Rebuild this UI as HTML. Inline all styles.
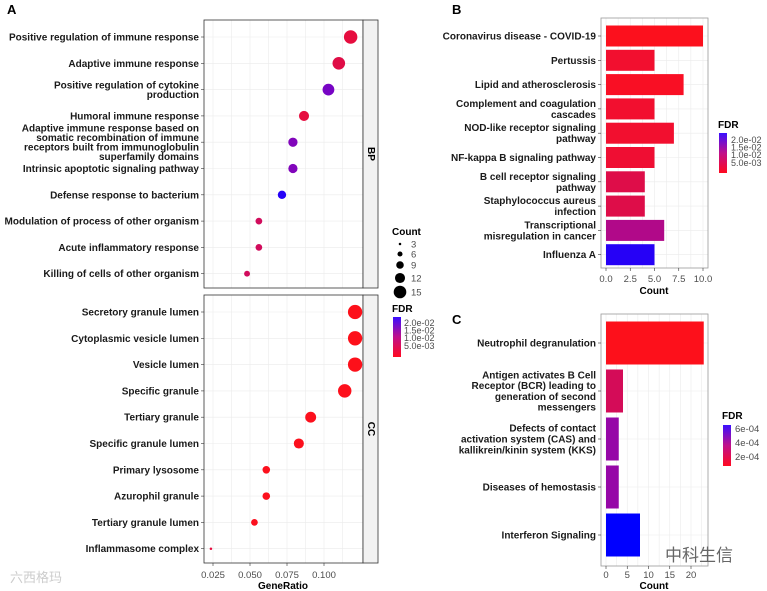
<!DOCTYPE html>
<html><head><meta charset="utf-8">
<style>
html,body{margin:0;padding:0;background:#fff;}
svg{display:block;font-family:"Liberation Sans",Arial,sans-serif;}
.lab{font-size:10px;font-weight:bold;fill:#1a1a1a;}
.tick{font-size:9.5px;fill:#4d4d4d;}
.ttl{font-size:10px;font-weight:bold;fill:#000;}
</style></head>
<body>
<svg id="chart" width="767" height="591" viewBox="0 0 767 591" xmlns="http://www.w3.org/2000/svg"></svg>
<script>
// ---- Panel A data ----
const bpTerms=["Positive regulation of immune response","Adaptive immune response","Positive regulation of cytokine|production","Humoral immune response","Adaptive immune response based on|somatic recombination of immune|receptors built from immunoglobulin|superfamily domains","Intrinsic apoptotic signaling pathway","Defense response to bacterium","Modulation of process of other organism","Acute inflammatory response","Killing of cells of other organism"];
const bpRatio=[0.118,0.110,0.103,0.0865,0.079,0.079,0.0716,0.056,0.056,0.048];
const bpCount=[16,15,14,12,11,11,10,8,8,7];
const bpFdr=[0.004,0.005,0.018,0.004,0.017,0.017,0.024,0.007,0.007,0.007];
const ccTerms=["Secretory granule lumen","Cytoplasmic vesicle lumen","Vesicle lumen","Specific granule","Tertiary granule","Specific granule lumen","Primary lysosome","Azurophil granule","Tertiary granule lumen","Inflammasome complex"];
const ccRatio=[0.121,0.121,0.121,0.114,0.091,0.083,0.061,0.061,0.053,0.0236];
const ccCount=[17,17,17,16,13,12,9,9,8,3];
const ccFdr=[0.0003,0.0003,0.0003,0.0004,0.0005,0.0005,0.0005,0.0005,0.0006,0.004];
const aTicks=[0.025,0.050,0.075,0.100];
const aTickLabels=["0.025","0.050","0.075","0.100"];
const sizeLegend=[3,6,9,12,15];
const aFdrLabels=["2.0e-02","1.5e-02","1.0e-02","5.0e-03"];
// ---- Panel B data ----
const bTerms=["Coronavirus disease - COVID-19","Pertussis","Lipid and atherosclerosis","Complement and coagulation|cascades","NOD-like receptor signaling|pathway","NF-kappa B signaling pathway","B cell receptor signaling|pathway","Staphylococcus aureus|infection","Transcriptional|misregulation in cancer","Influenza A"];
const bCount=[10,5,8,5,7,5,4,4,6,5];
const bFdr=[0.0005,0.002,0.001,0.002,0.002,0.0025,0.005,0.005,0.011,0.023];
const bTicks=[0,2.5,5,7.5,10];
const bTickLabels=["0.0","2.5","5.0","7.5","10.0"];
const bFdrLabels=["2.0e-02","1.5e-02","1.0e-02","5.0e-03"];
// ---- Panel C data ----
const cTerms=["Neutrophil degranulation","Antigen activates B Cell|Receptor (BCR) leading to|generation of second|messengers","Defects of contact|activation system (CAS) and|kallikrein/kinin system (KKS)","Diseases of hemostasis","Interferon Signaling"];
const cCount=[23,4,3,3,8];
const cFdr=[0.00001,0.00018,0.0004,0.0004,0.00068];
const cTicks=[0,5,10,15,20];
const cFdrLabels=["6e-04","4e-04","2e-04"];

const NS="http://www.w3.org/2000/svg";
const svg=document.getElementById('chart');
function mk(tag,attrs,parent,text){const e=document.createElementNS(NS,tag);for(const k in attrs)e.setAttribute(k,attrs[k]);if(text!==undefined)e.textContent=text;(parent||svg).appendChild(e);return e;}
function col(t){t=Math.max(0,Math.min(1,t));const r=Math.round(255*Math.pow(1-t,0.6)),g=Math.round(16*(1-t)),b=Math.round(255*Math.pow(t,0.8)+ (t<0.2?40*(1-t*5)*0.5:0));return `rgb(${r},${g},${b})`;}
function grad(id){const d=mk('defs',{});const lg=mk('linearGradient',{id:id,x1:0,y1:0,x2:0,y2:1},d);mk('stop',{offset:'0','stop-color':'#3a10ff'},lg);mk('stop',{offset:'0.5','stop-color':'#c0108a'},lg);mk('stop',{offset:'1','stop-color':'#ff0a20'},lg);}
function multiLabel(txt,xr,yc,lh,name){const lines=txt.split('|');const t=mk('text',{class:'lab','text-anchor':'end'});const y0=yc-(lines.length-1)*lh/2+3.5;lines.forEach((l,i)=>mk('tspan',{x:xr,y:y0+i*lh},t,l));}
function grid(x0,x1,y0,y1,xs,ys){xs.forEach(x=>mk('line',{x1:x,x2:x,y1:y0,y2:y1,stroke:'#ebebeb','stroke-width':0.6}));ys.forEach(y=>mk('line',{x1:x0,x2:x1,y1:y,y2:y,stroke:'#ebebeb','stroke-width':0.6}));}

mk('text',{x:7,y:14,style:'font-size:13px;font-weight:bold'},svg,'A');
mk('text',{x:452,y:14,style:'font-size:13px;font-weight:bold'},svg,'B');
mk('text',{x:452,y:324,style:'font-size:13px;font-weight:bold'},svg,'C');

// ---- Panel A ----
const ax=v=>213+(v-0.025)/0.025*37;
const aL=204,aR=363;
function facet(terms,ratio,count,fdr,top,bot,strip,name){
  const rowY=i=>top+17+i*26.3;
  const xs=[];aTicks.forEach(v=>{xs.push(ax(v));xs.push(ax(v-0.0125));});xs.push(ax(0.1125));
  grid(aL,aR,top,bot,xs.filter(x=>x>aL&&x<aR),terms.map((_,i)=>rowY(i)));
  mk('rect',{x:aL,y:top,width:aR-aL,height:bot-top,fill:'none',stroke:'#333','stroke-width':0.8});
  const s=mk('rect',{x:aR,y:top,width:15,height:bot-top,fill:'#f2f2f2',stroke:'#333','stroke-width':0.8});
  
  const st=mk('text',{x:aR+7.5,y:(top+bot)/2,class:'ttl','text-anchor':'middle',transform:`rotate(90 ${aR+7.5} ${(top+bot)/2})`,'dominant-baseline':'middle'},svg,strip);
  
  terms.forEach((t,i)=>{
    multiLabel(t,199,rowY(i),9.5,name+'-term-label');
    mk('line',{x1:201,x2:204,y1:rowY(i),y2:rowY(i),stroke:'#333','stroke-width':0.6});
    const c=mk('circle',{cx:ax(ratio[i]),cy:rowY(i),r:0.42*count[i],fill:col(fdr[i]/0.025)});
    
  });
}
facet(bpTerms,bpRatio,bpCount,bpFdr,20,288,'BP','bp');
facet(ccTerms,ccRatio,ccCount,ccFdr,295,563,'CC','cc');
aTicks.forEach((v,i)=>{mk('line',{x1:ax(v),x2:ax(v),y1:563,y2:566,stroke:'#333','stroke-width':0.6});
  const t=mk('text',{x:ax(v),y:578,class:'tick','text-anchor':'middle'},svg,aTickLabels[i]);});
mk('text',{x:283,y:589,class:'ttl','text-anchor':'middle'},svg,'GeneRatio');
mk('text',{x:392,y:235,class:'ttl'},svg,'Count');
const legY=[244,254,265,278,292];
sizeLegend.forEach((c,i)=>{const d=mk('circle',{cx:400,cy:legY[i],r:0.42*c,fill:'#000'});
  mk('text',{x:411,y:legY[i]+3.5,class:'tick'},svg,String(c));});
mk('text',{x:392,y:312,class:'ttl'},svg,'FDR');
grad('g1');
mk('rect',{x:393,y:317,width:8,height:40,fill:'url(#g1)'});
aFdrLabels.forEach((l,i)=>mk('text',{x:404,y:326+i*7.6,class:'tick',style:'font-size:9px'},svg,l));

// ---- Panel B ----
const bx=v=>606+v*9.7;
const bTop=18,bBot=268,bRow=i=>36+i*24.3;
grid(601,708,bTop,bBot,[0,1.25,2.5,3.75,5,6.25,7.5,8.75,10].map(bx),bTerms.map((_,i)=>bRow(i)));
mk('rect',{x:601,y:bTop,width:107,height:bBot-bTop,fill:'none',stroke:'#999','stroke-width':0.8});
bTerms.forEach((t,i)=>{
  multiLabel(t,596,bRow(i),11,'b-term-label');
  mk('line',{x1:598,x2:601,y1:bRow(i),y2:bRow(i),stroke:'#333','stroke-width':0.6});
  const r=mk('rect',{x:bx(0),y:bRow(i)-10.5,width:bx(bCount[i])-bx(0),height:21,fill:col(bFdr[i]/0.024)});
  
});
bTicks.forEach((v,i)=>{mk('line',{x1:bx(v),x2:bx(v),y1:bBot,y2:bBot+3,stroke:'#333','stroke-width':0.6});
  const t=mk('text',{x:bx(v),y:282,class:'tick','text-anchor':'middle'},svg,bTickLabels[i]);});
mk('text',{x:654,y:294,class:'ttl','text-anchor':'middle'},svg,'Count');
mk('text',{x:718,y:128,class:'ttl'},svg,'FDR');
mk('rect',{x:719,y:133,width:8,height:40,fill:'url(#g1)'});
bFdrLabels.forEach((l,i)=>mk('text',{x:731,y:143+i*7.6,class:'tick',style:'font-size:9px'},svg,l));

// ---- Panel C ----
const cx=v=>606+v*4.25;
const cTop=314,cBot=566,cRow=i=>343+i*48;
grid(601,708,cTop,cBot,[0,2.5,5,7.5,10,12.5,15,17.5,20,22.5].map(cx),cTerms.map((_,i)=>cRow(i)));
mk('rect',{x:601,y:cTop,width:107,height:cBot-cTop,fill:'none',stroke:'#999','stroke-width':0.8});
cTerms.forEach((t,i)=>{
  multiLabel(t,596,cRow(i),10.8,'c-term-label');
  mk('line',{x1:598,x2:601,y1:cRow(i),y2:cRow(i),stroke:'#333','stroke-width':0.6});
  const r=mk('rect',{x:cx(0),y:cRow(i)-21.5,width:cx(cCount[i])-cx(0),height:43,fill:col(cFdr[i]/0.00068)});
  
});
cTicks.forEach(v=>{mk('line',{x1:cx(v),x2:cx(v),y1:cBot,y2:cBot+3,stroke:'#333','stroke-width':0.6});
  const t=mk('text',{x:cx(v),y:578,class:'tick','text-anchor':'middle'},svg,String(v));});
mk('text',{x:654,y:589,class:'ttl','text-anchor':'middle'},svg,'Count');
mk('text',{x:722,y:419,class:'ttl'},svg,'FDR');
mk('rect',{x:723,y:425,width:8,height:41,fill:'url(#g1)'});
cFdrLabels.forEach((l,i)=>mk('text',{x:735,y:432+i*14,class:'tick'},svg,l));
mk('text',{x:665,y:561,style:'font-size:17px;fill:#666;font-family:"Liberation Sans","Noto Sans CJK SC",sans-serif'},svg,'中科生信');
mk('text',{x:10,y:582,style:'font-size:13px;fill:#ccc;font-family:"Liberation Sans","Noto Sans CJK SC",sans-serif'},svg,'六西格玛');
</script>
</body></html>
